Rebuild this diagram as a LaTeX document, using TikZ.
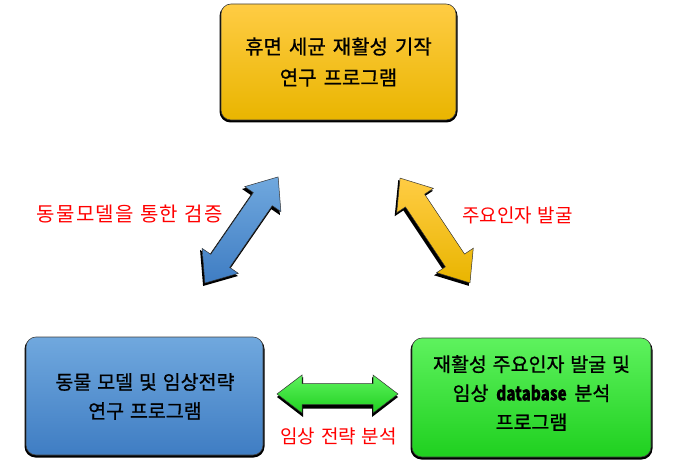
\documentclass[tikz,border=0pt]{standalone}
\usepackage{fontspec}
\setmainfont{Noto Sans CJK KR}
\usetikzlibrary{calc}
\definecolor{goldtop}{HTML}{FFCC44}
\definecolor{goldbot}{HTML}{E9B500}
\definecolor{bluetop}{HTML}{70A8DE}
\definecolor{bluebot}{HTML}{3F7DC3}
\definecolor{greentop}{HTML}{5EF25E}
\definecolor{greenbot}{HTML}{1FD01F}
\definecolor{lblred}{HTML}{FF0000}
\tikzset{
  boxshadow/.style={fill=black, rounded corners=11pt},
  boxbody/.style={draw=black!75, line width=0.6pt, rounded corners=10pt},
  boxtext/.style={align=center, text=black, font=\fontsize{19.5}{29}\selectfont\addfontfeature{FakeBold=0.8}},
  redlabel/.style={text=lblred, font=\fontsize{19}{23}\selectfont, inner sep=0pt},
  arrowshadow/.style={fill=black},
  arrowbody/.style={draw=black!80, line width=0.5pt, line join=miter},
}
% double arrow path: length L, head width W, shaft width S, head length H
\newcommand\dblarrowpath[4]{%
  (-#1/2,0) -- (-#1/2+#4,#2/2) -- (-#1/2+#4,#3/2) -- (#1/2-#4,#3/2) -- (#1/2-#4,#2/2) --
  (#1/2,0) -- (#1/2-#4,-#2/2) -- (#1/2-#4,-#3/2) -- (-#1/2+#4,-#3/2) -- (-#1/2+#4,-#2/2) -- cycle}
\begin{document}
\begin{tikzpicture}[x=1pt,y=-1pt]
\useasboundingbox (0,0) rectangle (676,470);
% ---- boxes ----
% top
\fill[boxshadow] (219.5,5) rectangle (457.5,122.5);
\path[boxbody, top color=goldtop, bottom color=goldbot, middle color=goldtop!50!goldbot] (221,4) rectangle (456,120);
\node[boxtext, font=\fontsize{20}{31}\selectfont\addfontfeature{FakeBold=0.8}] (top) at (338.5,62) {휴면\hspace{0.35em}세균\hspace{0.35em}재활성\hspace{0.35em}기작\\연구\hspace{0.35em}프로그램};
% blue
\fill[boxshadow] (24.5,338) rectangle (264.5,457.5);
\path[boxbody, top color=bluetop, bottom color=bluebot] (26,337) rectangle (263,455);
\node[boxtext] (blue) at (145,396.5) {동물\hspace{0.3em}모델\hspace{0.3em}및\hspace{0.3em}임상전략\\연구\hspace{0.3em}프로그램};
% green
\fill[boxshadow] (410.5,339) rectangle (652.5,459.5);
\path[boxbody, top color=greentop, bottom color=greenbot] (412,338) rectangle (651,457);
\node[boxtext] (green) at (531.5,393) {재활성\hspace{0.3em}주요인자\hspace{0.3em}발굴\hspace{0.3em}및\\임상\hspace{0.4em}{\bfseries\addfontfeature{FakeStretch=0.78}database}\hspace{0.4em}분석\\프로그램};
% ---- arrows ----
% blue diagonal
\begin{scope}[shift={(240,232.5)}, rotate=55.4]
  \fill[arrowshadow] \dblarrowpath{130}{46}{25}{28};
\end{scope}
\begin{scope}[shift={(241.5,230)}, rotate=55.4]
  \path[arrowbody, top color=bluetop, bottom color=bluebot] \dblarrowpath{129}{44}{23}{27};
\end{scope}
\node[inner sep=0pt] (barrow) at (241.5,230) {};
% gold diagonal
\begin{scope}[shift={(433.5,233)}, rotate=-56.3]
  \fill[arrowshadow] \dblarrowpath{127}{46}{25}{28};
\end{scope}
\begin{scope}[shift={(435,230.5)}, rotate=-56.3]
  \path[arrowbody, top color=goldtop, bottom color=goldbot] \dblarrowpath{126}{44}{23}{27};
\end{scope}
\node[inner sep=0pt] (garrow) at (435,230.5) {};
% green horizontal
\begin{scope}[shift={(337.5,397)}]
  \fill[arrowshadow] \dblarrowpath{121}{40}{23}{26};
\end{scope}
\begin{scope}[shift={(337.5,394)}]
  \path[arrowbody, top color=greentop, bottom color=greenbot] \dblarrowpath{121}{38}{21}{25};
\end{scope}
\node[inner sep=0pt] (harrow) at (337.5,394) {};
% ---- labels ----
\node[redlabel, font=\fontsize{20}{24}\selectfont\addfontfeature{LetterSpace=7}] (l1) at (129.5,214) {동물모델을\hspace{0.3em}통한\hspace{0.3em}검증};
\node[redlabel] (l2) at (517.5,215) {주요인자\hspace{0.3em}발굴};
\node[redlabel] (l3) at (338.5,436) {임상\hspace{0.3em}전략\hspace{0.3em}분석};
\end{tikzpicture}
\end{document}
